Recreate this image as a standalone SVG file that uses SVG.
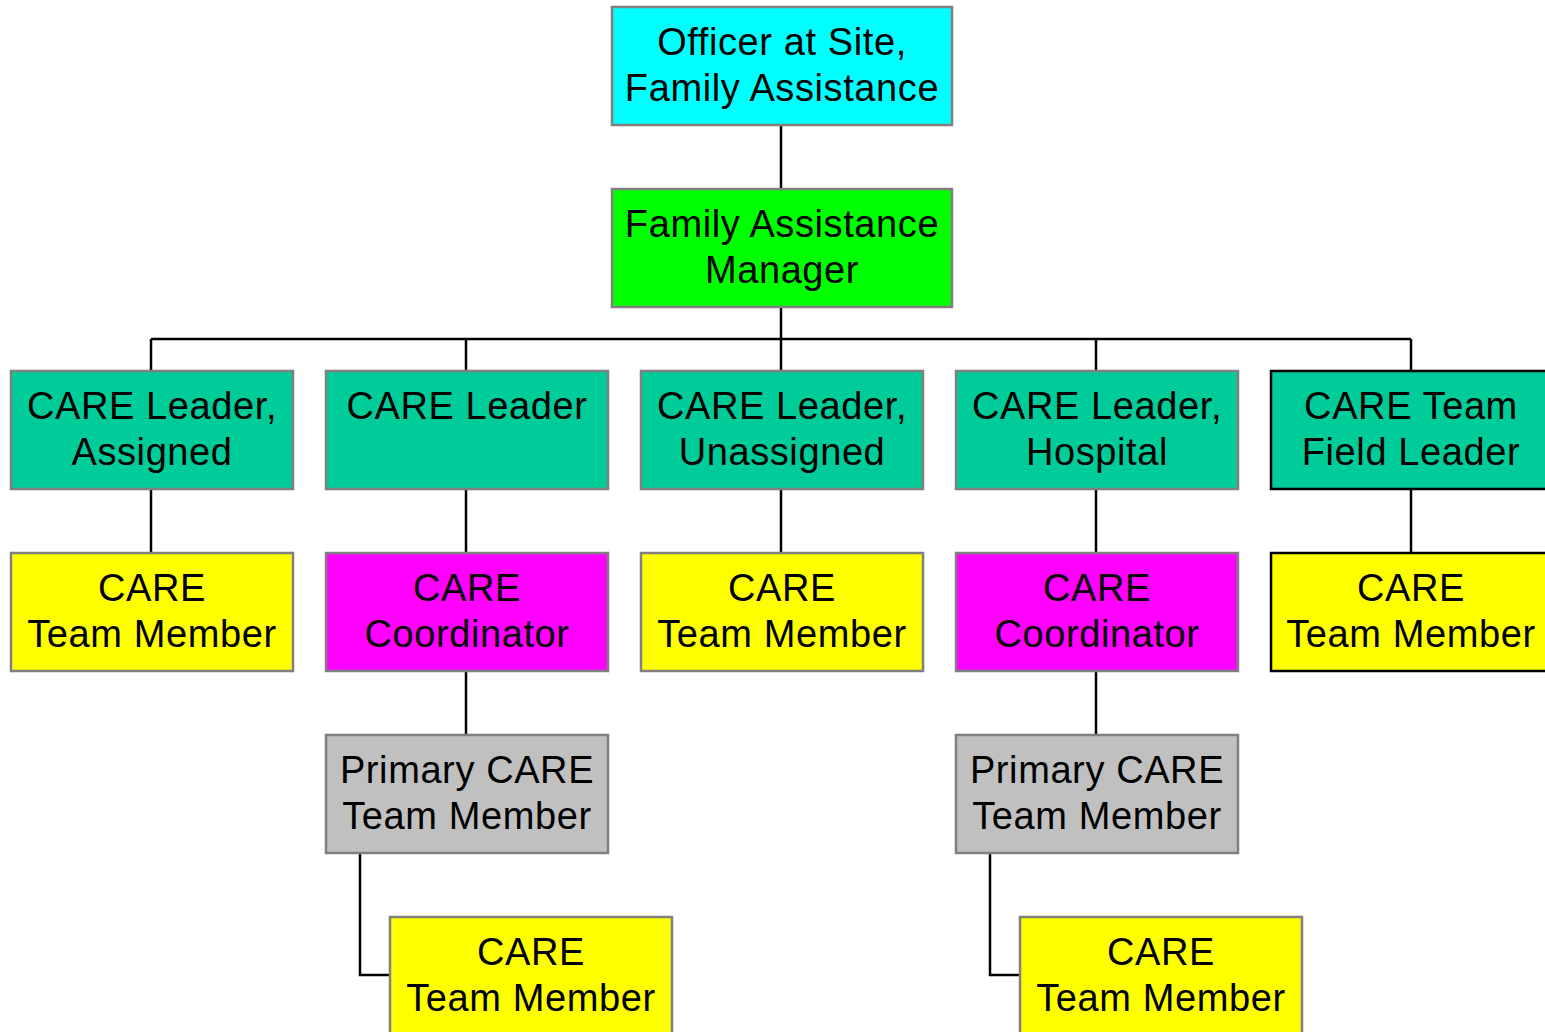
<svg xmlns="http://www.w3.org/2000/svg" width="1545" height="1032" viewBox="0 0 1545 1032">
<style>
.b{stroke:#808080;stroke-width:2.5}
.k{stroke:#000;stroke-width:2.5}
.cy{fill:#00ffff}.gr{fill:#00ff00}.tl{fill:#00cc99}.ye{fill:#ffff00}.mg{fill:#ff00ff}.gy{fill:#c0c0c0}
text{font-family:"Liberation Sans",Arial,sans-serif;font-size:38px;letter-spacing:0.6px;fill:#000;text-anchor:middle}
.c{fill:none;stroke:#000;stroke-width:2.5}
</style>
<rect width="1545" height="1032" fill="#fff"/>
<g id="connectors">
<path class="c" d="M781 125V189M781 307V339M151 339H1411M151 339V371M466 339V371M781 339V371M1096 339V371M1411 339V371"/>
<path class="c" d="M151 489V553M466 489V553M781 489V553M1096 489V553M1411 489V553"/>
<path class="c" d="M466 671V735M1096 671V735"/>
<path class="c" d="M360 853V975H390M990 853V975H1020"/>
</g>
<g id="officer"><rect class="b cy" x="612" y="7" width="340" height="118"/><text x="782" y="55">Officer at Site,</text><text x="782" y="101">Family Assistance</text></g>
<g id="manager"><rect class="b gr" x="612" y="189" width="340" height="118"/><text x="782" y="237">Family Assistance</text><text x="782" y="283">Manager</text></g>
<g id="leader-assigned"><rect class="b tl" x="11" y="371" width="282" height="118"/><text x="152" y="419">CARE Leader,</text><text x="152" y="465">Assigned</text></g>
<g id="leader"><rect class="b tl" x="326" y="371" width="282" height="118"/><text x="467" y="419">CARE Leader</text></g>
<g id="leader-unassigned"><rect class="b tl" x="641" y="371" width="282" height="118"/><text x="782" y="419">CARE Leader,</text><text x="782" y="465">Unassigned</text></g>
<g id="leader-hospital"><rect class="b tl" x="956" y="371" width="282" height="118"/><text x="1097" y="419">CARE Leader,</text><text x="1097" y="465">Hospital</text></g>
<g id="field-leader"><rect class="k tl" x="1271" y="371" width="282" height="118"/><text x="1411" y="419">CARE Team</text><text x="1411" y="465">Field Leader</text></g>
<g id="member-1"><rect class="b ye" x="11" y="553" width="282" height="118"/><text x="152" y="601">CARE</text><text x="152" y="647">Team Member</text></g>
<g id="coordinator-1"><rect class="b mg" x="326" y="553" width="282" height="118"/><text x="467" y="601">CARE</text><text x="467" y="647">Coordinator</text></g>
<g id="member-3"><rect class="b ye" x="641" y="553" width="282" height="118"/><text x="782" y="601">CARE</text><text x="782" y="647">Team Member</text></g>
<g id="coordinator-2"><rect class="b mg" x="956" y="553" width="282" height="118"/><text x="1097" y="601">CARE</text><text x="1097" y="647">Coordinator</text></g>
<g id="member-5"><rect class="k ye" x="1271" y="553" width="282" height="118"/><text x="1411" y="601">CARE</text><text x="1411" y="647">Team Member</text></g>
<g id="primary-1"><rect class="b gy" x="326" y="735" width="282" height="118"/><text x="467" y="783">Primary CARE</text><text x="467" y="829">Team Member</text></g>
<g id="primary-2"><rect class="b gy" x="956" y="735" width="282" height="118"/><text x="1097" y="783">Primary CARE</text><text x="1097" y="829">Team Member</text></g>
<g id="member-sub-1"><rect class="b ye" x="390" y="917" width="282" height="118"/><text x="531" y="965">CARE</text><text x="531" y="1011">Team Member</text></g>
<g id="member-sub-2"><rect class="b ye" x="1020" y="917" width="282" height="118"/><text x="1161" y="965">CARE</text><text x="1161" y="1011">Team Member</text></g>
</svg>
